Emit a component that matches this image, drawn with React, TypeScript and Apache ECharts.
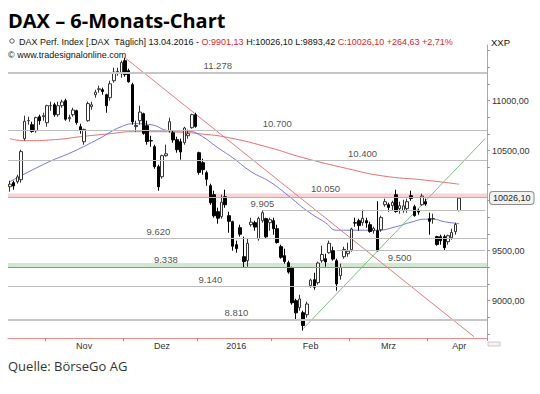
import React, { useEffect, useRef } from 'react';
import * as echarts from 'echarts';

// ---- data ----
const dates = [
  '2015-10-19','2015-10-20','2015-10-21','2015-10-22','2015-10-23','2015-10-26','2015-10-27','2015-10-28','2015-10-29','2015-10-30',
  '2015-11-02','2015-11-03','2015-11-04','2015-11-05','2015-11-06','2015-11-09','2015-11-10','2015-11-11','2015-11-12','2015-11-13',
  '2015-11-16','2015-11-17','2015-11-18','2015-11-19','2015-11-20','2015-11-23','2015-11-24','2015-11-25','2015-11-26','2015-11-27','2015-11-30',
  '2015-12-01','2015-12-02','2015-12-03','2015-12-04','2015-12-07','2015-12-08','2015-12-09','2015-12-10','2015-12-11','2015-12-14',
  '2015-12-15','2015-12-16','2015-12-17','2015-12-18','2015-12-21','2015-12-22','2015-12-23','2015-12-28','2015-12-29','2015-12-30',
  '2016-01-04','2016-01-05','2016-01-06','2016-01-07','2016-01-08','2016-01-11','2016-01-12','2016-01-13','2016-01-14','2016-01-15',
  '2016-01-18','2016-01-19','2016-01-20','2016-01-21','2016-01-22','2016-01-25','2016-01-26','2016-01-27','2016-01-28','2016-01-29',
  '2016-02-01','2016-02-02','2016-02-03','2016-02-04','2016-02-05','2016-02-08','2016-02-09','2016-02-10','2016-02-11','2016-02-12',
  '2016-02-15','2016-02-16','2016-02-17','2016-02-18','2016-02-19','2016-02-22','2016-02-23','2016-02-24','2016-02-25','2016-02-26','2016-02-29',
  '2016-03-01','2016-03-02','2016-03-03','2016-03-04','2016-03-07','2016-03-08','2016-03-09','2016-03-10','2016-03-11','2016-03-14',
  '2016-03-15','2016-03-16','2016-03-17','2016-03-18','2016-03-21','2016-03-22','2016-03-23','2016-03-24','2016-03-29','2016-03-30','2016-03-31',
  '2016-04-01','2016-04-04','2016-04-05','2016-04-06','2016-04-07','2016-04-08','2016-04-11','2016-04-12','2016-04-13',
];
const emptySlots = ['f1','f2','f3','f4','f5','f6','f7'];

const opens = [
  10140,10180,10190,10210,10620,10800,10760,10700,10840,10840,
  10780,10950,10960,10860,10950,11000,10820,10860,10900,10740,
  10590,10800,10940,11060,11110,11110,11060,11030,11200,11290,11270,
  11400,11300,11160,10740,10800,10870,10750,10600,10540,10340,
  10240,10450,10700,10680,10610,10590,10580,10650,10730,10860,
  10480,10380,10280,10150,10060,9890,9840,10040,9850,9790,
  9560,9730,9440,9400,9760,9780,9620,9800,9820,9780,
  9800,9720,9540,9450,9380,9330,9000,8930,8880,8860,
  9150,9210,9180,9400,9420,9480,9500,9400,9250,9440,9470,
  9510,9780,9800,9780,9800,9760,9700,9700,9710,9960,
  9960,9950,10060,9920,9900,9920,10050,9940,9900,9960,9990,
  9820,9820,9640,9640,9640,9590,9630,9690,9901.13,
];
const highs = [
  10200,10200,10260,10510,10850,10840,10790,10840,10860,10880,
  10960,10990,10980,10990,11010,11020,10860,10930,10910,10770,
  10720,10990,10990,11110,11150,11130,11070,11200,11330,11330,11400,
  11430,11320,11180,10800,10950,10880,10800,10650,10560,10360,
  10460,10560,10830,10700,10640,10620,10740,10710,10870,10880,
  10490,10420,10300,10170,10100,9930,10060,10110,9890,9800,
  9600,9760,9640,9620,9830,9800,9840,9905,9830,9830,
  9830,9760,9560,9520,9400,9340,9020,9060,8900,8990,
  9220,9280,9390,9550,9470,9600,9540,9420,9370,9540,9580,
  9730,9830,9820,9910,9830,9790,9740,9995,9850,10020,
  9980,10000,10110,9990,10010,10020,10100,9960,9920,10070,10020,
  9880,9870,9650,9660,9660,9660,9720,9780,10026.10,
];
const lows = [
  10090,10110,10170,10180,10600,10760,10680,10680,10760,10800,
  10740,10900,10840,10840,10930,10800,10790,10840,10760,10670,
  10560,10790,10910,11030,11080,11060,10880,11000,11180,11250,11230,
  11240,11180,10760,10690,10760,10660,10560,10540,10320,10100,
  10220,10440,10680,10580,10480,10410,10560,10620,10720,10730,
  10260,10260,10150,9960,9830,9770,9820,9930,9680,9500,
  9480,9640,9330,9340,9740,9700,9600,9780,9620,9700,
  9660,9570,9420,9370,9270,8960,8800,8900,8700,8830,
  9130,9110,9160,9380,9340,9470,9400,9100,9210,9420,9440,
  9490,9740,9700,9750,9730,9680,9670,9498,9690,9940,
  9890,9900,9880,9870,9880,9880,10000,9840,9860,9950,9950,
  9660,9770,9550,9560,9500,9560,9610,9660,9893.42,
];
const closes = [
  10165,10147,10238,10491,10794,10801,10692,10831,10800,10850,
  10950,10951,10860,10950,10988,10815,10832,10907,10782,10708,
  10713,10971,10959,11085,11119,11092,10950,11169,11285,11293,11382,
  11261,11190,10789,10752,10886,10673,10592,10598,10340,10139,
  10450,10469,10790,10608,10510,10487,10727,10670,10860,10743,
  10283,10310,10214,9979,9849,9825,9985,9960,9794,9545,
  9521,9665,9391,9574,9785,9736,9822,9880,9639,9810,
  9720,9582,9434,9393,9286,8979,8879,9017,8752,8967,
  9206,9135,9377,9463,9388,9574,9416,9167,9331,9513,9495,
  9717,9776,9751,9824,9778,9692,9723,9498,9831,9990,
  9933,9983,9892,9950,9948,9990,10022,9851,9887,10046,9966,
  9794,9822,9563,9600,9530,9650,9682,9761.47,10026.10,
];

// moving averages: [slot, value]
const maShort = [
  [0,10190],[10,10380],[17,10490],[24,10620],[30,10740],[34,10770],[38,10760],[43,10700],[48,10695],
  [51,10660],[56,10530],[60,10430],[65,10290],[70,10190],[75,10050],[80,9900],[85,9780],[88,9705],
  [92,9705],[99,9705],[104,9740],[108,9785],[112,9815],[114,9815],[117,9790],[121,9770],
];
const maLong = [
  [0,10620],[4,10600],[12,10610],[19,10640],[27,10670],[33,10690],[40,10690],[46,10685],[51,10670],
  [59,10630],[70,10530],[79,10430],[91,10320],[100,10250],[112,10205],[121,10165],
];
const downTrend = [[31,11430],[125,8640]];
const upTrend = [[79,8720],[128,10621]];

const levelValues = [11278, 10700, 10400, 10050, 9905, 9620, 9500, 9338, 9140, 8810];
const levelLabels = ['11.278','10.700','10.400','10.050','9.905','9.620','9.500','9.338','9.140','8.810'];
const monthLabels = ['Nov','Dez','2016','Feb','Mrz','Apr'];
const yLabelValues = [9000, 9500, 10500, 11000];

// ---- layout (not data) ----
const levelLabelSlot = [56, 72, 95, 85, 68, 40, 105, 42, 54, 61];
const levelStartSlot: (number | null)[] = [null, null, null, null, 68, null, 88, null, null, null];
const levelBelow = [false, false, false, false, false, false, true, false, false, false];

const de = (v: number) => v.toFixed(2).replace('.', ',');

export default function App() {
  const ref = useRef<HTMLDivElement>(null);
  useEffect(() => {
    if (!ref.current) return;
    const chart = echarts.init(ref.current, undefined, { renderer: 'svg' });
    const categories = [...dates, ...emptySlots];
    const lastSlot = categories.length - 1;

    const starts: number[] = [];
    for (let i = 1; i < dates.length; i++) {
      if (dates[i].slice(0, 7) !== dates[i - 1].slice(0, 7)) starts.push(i);
    }
    const labelSlots: number[] = starts.map((s, k) => {
      const e = k + 1 < starts.length ? starts[k + 1] - 1 : lastSlot;
      return Math.ceil((s + e) / 2);
    });
    const labelMap: Record<number, string> = {};
    labelSlots.forEach((s, k) => (labelMap[s] = monthLabels[k]));

    const candle = dates.map((_, i) => [opens[i], closes[i], lows[i], highs[i]]);
    const n = dates.length - 1;
    const chg = closes[n] - closes[n - 1];
    const pct = (chg / closes[n - 1]) * 100;

    const grayLines: any[] = [];
    levelValues.forEach((v, k) => {
      if (v === 10050 || v === 9338) return;
      const style = {
        color: k === 0 || v === 8810 ? '#c6c6c6' : '#bdbdbd',
        width: k === 0 || v === 8810 ? 2 : 1,
        type: 'solid',
      };
      if (levelStartSlot[k] == null) grayLines.push({ yAxis: v, lineStyle: style });
      else grayLines.push([{ coord: [levelStartSlot[k], v], lineStyle: style }, { coord: [lastSlot, v] }]);
    });
    grayLines.push({ yAxis: 10030, lineStyle: { color: '#e89a9a', width: 1, type: 'solid' } });
    grayLines.push({ yAxis: 9338, lineStyle: { color: '#6fae6f', width: 1, type: 'solid' } });

    const tickVals: number[] = [];
    for (let k = -2; k <= 15; k++) tickVals.push(9000 + (k * 500) / 3);

    const smallFont = 'Liberation Sans, Arial, sans-serif';

    chart.setOption({
      animation: false,
      backgroundColor: '#ffffff',
      grid: { left: 8, right: 53, top: 45, bottom: 56 },
      xAxis: {
        type: 'category',
        data: categories,
        boundaryGap: true,
        axisLine: { show: true, lineStyle: { color: '#ee8c8c', width: 1 } },
        axisTick: {
          show: true,
          interval: (i: number) => starts.includes(i),
          length: 3,
          lineStyle: { color: '#999' },
        },
        axisLabel: {
          interval: (i: number) => labelMap[i] !== undefined,
          formatter: (_v: string, i: number) => labelMap[i] || '',
          fontSize: 9,
          fontFamily: smallFont,
          color: '#333',
          margin: 3,
        },
        splitLine: { show: false },
      },
      yAxis: {
        type: 'value',
        position: 'right',
        min: 8627,
        max: 11557,
        splitLine: { show: false },
        axisLine: { show: true, lineStyle: { color: '#ee8c8c', width: 1 } },
        axisTick: { show: true, length: 3, lineStyle: { color: '#999' }, customValues: tickVals },
        axisLabel: {
          customValues: yLabelValues,
          formatter: (v: number) => de(v),
          fontSize: 9,
          fontFamily: smallFont,
          color: '#333',
          margin: 5,
        },
      },
      series: [
        {
          name: 'levels',
          type: 'scatter',
          z: 1,
          symbolSize: 0,
          silent: true,
          data: levelValues.map((v, k) => ({
            value: [levelLabelSlot[k], v],
            label: {
              show: true,
              position: levelBelow[k] ? 'bottom' : 'top',
              distance: 2,
              formatter: levelLabels[k],
              fontSize: 9.5,
              fontFamily: smallFont,
              color: '#222',
            },
          })),
          markArea: {
            silent: true,
            data: [
              [{ yAxis: 10030, itemStyle: { color: 'rgba(242,170,170,0.5)' } }, { yAxis: 10072 }],
              [{ yAxis: 9338, itemStyle: { color: 'rgba(160,210,160,0.5)' } }, { yAxis: 9378 }],
            ],
          },
          markLine: {
            silent: true,
            symbol: ['none', 'none'],
            label: { show: false },
            data: grayLines,
          },
        },
        {
          name: 'maLong',
          type: 'line',
          z: 2,
          data: maLong,
          showSymbol: false,
          smooth: true,
          lineStyle: { color: '#ec6e6e', width: 1 },
        },
        {
          name: 'maShort',
          type: 'line',
          z: 2,
          data: maShort,
          showSymbol: false,
          smooth: true,
          lineStyle: { color: '#7474ee', width: 1 },
        },
        {
          name: 'down',
          type: 'line',
          z: 2,
          data: downTrend,
          showSymbol: false,
          lineStyle: { color: '#f07878', width: 1 },
        },
        {
          name: 'up',
          type: 'line',
          z: 2,
          data: upTrend,
          showSymbol: false,
          lineStyle: { color: '#7fbf7f', width: 1 },
        },
        {
          name: 'DAX',
          type: 'candlestick',
          z: 3,
          data: candle,
          barWidth: 3,
          itemStyle: {
            color: '#ffffff',
            color0: '#000000',
            borderColor: '#333333',
            borderColor0: '#000000',
            borderWidth: 1,
          },
        },
        {
          name: 'lastPrice',
          type: 'line',
          z: 4,
          data: [],
          markLine: {
            silent: true,
            symbol: ['none', 'none'],
            lineStyle: { color: 'rgba(0,0,0,0)', width: 1 },
            data: [{ yAxis: closes[n] }],
            label: {
              show: true,
              position: 'end',
              distance: 3,
              formatter: de(closes[n]),
              fontSize: 9,
              fontFamily: smallFont,
              color: '#222',
              backgroundColor: '#f2f2f2',
              borderColor: '#8c8c8c',
              borderWidth: 1,
              borderRadius: 3,
              padding: [2, 3, 1, 3],
            },
          },
        },
      ],
      graphic: [
        {
          type: 'text',
          left: 8,
          top: 10,
          style: { text: 'DAX – 6-Monats-Chart', font: 'bold 20px "Open Sans", sans-serif', fill: '#000' },
        },
        {
          type: 'text',
          x: 19,
          y: 42,
          style: {
            text:
              '{k|DAX Perf. Index [.DAX  Täglich] 13.04.2016 - }{r|O:' + de(opens[n]) + '}{k| H:' + de(highs[n]) +
              ' L:' + de(lows[n]) + ' }{r|C:' + de(closes[n]) + ' +' + de(chg) + ' +' + de(pct) + '%}',
            verticalAlign: 'middle',
            rich: {
              k: { fill: '#111', fontSize: 9, fontFamily: smallFont },
              r: { fill: '#e02828', fontSize: 9, fontFamily: smallFont },
            },
          },
        },
        {
          type: 'circle',
          shape: { cx: 12, cy: 41, r: 2.2 },
          style: { fill: 'none', stroke: '#333', lineWidth: 0.8 },
        },
        {
          type: 'text',
          x: 8,
          y: 55,
          style: { text: '© www.tradesignalonline.com', verticalAlign: 'middle', fontSize: 9, fontFamily: smallFont, fill: '#111' },
        },
        {
          type: 'text',
          x: 491,
          y: 42,
          style: { text: 'XXP', verticalAlign: 'middle', fontSize: 9.5, fontFamily: smallFont, fill: '#111' },
        },
        {
          type: 'rect',
          shape: { x: 488, y: 342, width: 12, height: 4 },
          style: { fill: '#f4f4f4', stroke: '#aaa', lineWidth: 0.6 },
        },
        {
          type: 'text',
          x: 8,
          y: 366,
          style: { text: 'Quelle: BörseGo AG', verticalAlign: 'middle', font: '13px "Open Sans", sans-serif', fill: '#333' },
        },
      ],
    });
    return () => chart.dispose();
  }, []);
  return (
    <div style={{ position: 'fixed', left: 0, top: 0, width: 540, height: 394, background: '#fff' }}>
      <div ref={ref} style={{ width: 540, height: 394 }} />
    </div>
  );
}
